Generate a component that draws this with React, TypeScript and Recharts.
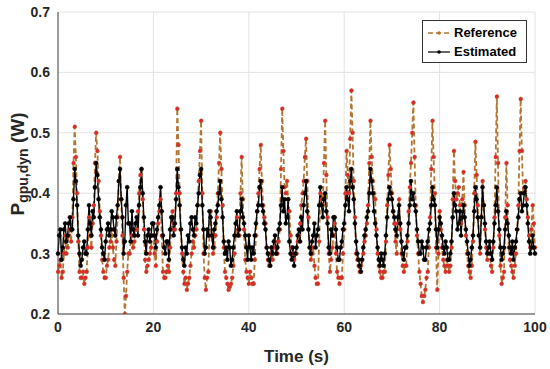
import React from "react";
import {
  LineChart,
  Line,
  XAxis,
  YAxis,
  CartesianGrid,
} from "recharts";

// sample grid, 0.25 s steps from 0 to 100 s
const time = Array.from({ length: 401 }, (_, i) => i * 0.25);

const estimated = [
  0.30, 0.33, 0.34, 0.29, 0.31, 0.34, 0.35, 0.32, 0.33, 0.35, 0.36, 0.34, 0.34, 0.39, 0.44, 0.42, 0.38, 0.33, 0.30, 0.28,
  0.29, 0.31, 0.32, 0.30, 0.30, 0.34, 0.38, 0.35, 0.33, 0.37, 0.36, 0.41, 0.45, 0.43, 0.39, 0.36, 0.34, 0.31, 0.30, 0.29,
  0.32, 0.34, 0.35, 0.33, 0.34, 0.37, 0.36, 0.34, 0.33, 0.36, 0.38, 0.42, 0.44, 0.39, 0.36, 0.30, 0.32, 0.38, 0.41, 0.35,
  0.35, 0.32, 0.37, 0.34, 0.33, 0.35, 0.36, 0.33, 0.38, 0.41, 0.44, 0.40, 0.36, 0.32, 0.30, 0.33, 0.34, 0.32, 0.33, 0.35,
  0.35, 0.33, 0.31, 0.34, 0.36, 0.38, 0.41, 0.37, 0.33, 0.31, 0.30, 0.32, 0.32, 0.29, 0.34, 0.36, 0.36, 0.33, 0.35, 0.39,
  0.44, 0.41, 0.38, 0.34, 0.31, 0.29, 0.28, 0.31, 0.30, 0.33, 0.32, 0.35, 0.36, 0.34, 0.33, 0.36, 0.35, 0.38, 0.40, 0.43,
  0.44, 0.38, 0.34, 0.30, 0.31, 0.34, 0.33, 0.37, 0.36, 0.33, 0.31, 0.34, 0.35, 0.37, 0.38, 0.40, 0.42, 0.39, 0.36, 0.32,
  0.30, 0.31, 0.29, 0.32, 0.31, 0.28, 0.29, 0.31, 0.33, 0.35, 0.37, 0.33, 0.34, 0.37, 0.39, 0.36, 0.35, 0.33, 0.31, 0.29,
  0.33, 0.31, 0.29, 0.31, 0.30, 0.33, 0.35, 0.37, 0.38, 0.41, 0.42, 0.38, 0.37, 0.35, 0.34, 0.31, 0.30, 0.29, 0.28, 0.31,
  0.30, 0.32, 0.33, 0.30, 0.31, 0.34, 0.35, 0.38, 0.41, 0.37, 0.39, 0.35, 0.36, 0.39, 0.32, 0.30, 0.29, 0.31, 0.28, 0.30,
  0.31, 0.33, 0.34, 0.32, 0.36, 0.34, 0.38, 0.40, 0.42, 0.37, 0.34, 0.31, 0.30, 0.32, 0.33, 0.35, 0.31, 0.33, 0.34, 0.38,
  0.41, 0.38, 0.36, 0.39, 0.40, 0.37, 0.35, 0.31, 0.30, 0.34, 0.33, 0.36, 0.36, 0.34, 0.31, 0.29, 0.29, 0.31, 0.32, 0.34,
  0.35, 0.38, 0.41, 0.39, 0.37, 0.42, 0.44, 0.41, 0.39, 0.35, 0.32, 0.30, 0.29, 0.28, 0.27, 0.29, 0.31, 0.33, 0.34, 0.36,
  0.37, 0.40, 0.44, 0.42, 0.40, 0.37, 0.35, 0.33, 0.31, 0.29, 0.28, 0.30, 0.29, 0.28, 0.30, 0.33, 0.36, 0.39, 0.41, 0.40,
  0.39, 0.37, 0.36, 0.34, 0.33, 0.36, 0.38, 0.35, 0.32, 0.30, 0.29, 0.31, 0.31, 0.33, 0.35, 0.38, 0.42, 0.39, 0.40, 0.38,
  0.37, 0.34, 0.32, 0.30, 0.30, 0.32, 0.31, 0.29, 0.29, 0.31, 0.32, 0.34, 0.35, 0.38, 0.41, 0.39, 0.38, 0.34, 0.31, 0.34,
  0.36, 0.35, 0.33, 0.31, 0.30, 0.32, 0.31, 0.29, 0.29, 0.30, 0.32, 0.36, 0.40, 0.38, 0.37, 0.34, 0.35, 0.37, 0.33, 0.36,
  0.38, 0.36, 0.34, 0.32, 0.30, 0.28, 0.29, 0.31, 0.33, 0.37, 0.41, 0.39, 0.36, 0.33, 0.31, 0.36, 0.41, 0.38, 0.35, 0.32,
  0.30, 0.31, 0.32, 0.30, 0.29, 0.32, 0.35, 0.38, 0.41, 0.37, 0.34, 0.31, 0.29, 0.30, 0.31, 0.34, 0.37, 0.35, 0.33, 0.31,
  0.30, 0.32, 0.29, 0.31, 0.32, 0.34, 0.36, 0.39, 0.40, 0.37, 0.38, 0.40, 0.41, 0.38, 0.35, 0.32, 0.30, 0.31, 0.33, 0.31,
  0.30,
];

const reference = [
  0.27, 0.28, 0.29, 0.26, 0.27, 0.30, 0.33, 0.30, 0.31, 0.33, 0.34, 0.32, 0.36, 0.45, 0.51, 0.46, 0.40, 0.32, 0.27, 0.26,
  0.26, 0.27, 0.25, 0.26, 0.27, 0.31, 0.36, 0.33, 0.31, 0.35, 0.38, 0.45, 0.50, 0.47, 0.42, 0.37, 0.33, 0.29, 0.27, 0.26,
  0.26, 0.28, 0.29, 0.31, 0.32, 0.34, 0.31, 0.29, 0.28, 0.32, 0.36, 0.42, 0.46, 0.39, 0.33, 0.26, 0.20, 0.23, 0.27, 0.30,
  0.30, 0.32, 0.33, 0.31, 0.32, 0.34, 0.34, 0.37, 0.40, 0.43, 0.44, 0.39, 0.34, 0.29, 0.27, 0.28, 0.29, 0.30, 0.31, 0.33,
  0.33, 0.30, 0.28, 0.32, 0.35, 0.37, 0.39, 0.33, 0.27, 0.26, 0.26, 0.27, 0.28, 0.27, 0.31, 0.34, 0.37, 0.35, 0.34, 0.40,
  0.54, 0.48, 0.40, 0.34, 0.30, 0.27, 0.25, 0.26, 0.24, 0.25, 0.26, 0.28, 0.30, 0.32, 0.31, 0.33, 0.34, 0.38, 0.42, 0.47,
  0.52, 0.40, 0.30, 0.26, 0.24, 0.26, 0.27, 0.33, 0.37, 0.33, 0.30, 0.31, 0.33, 0.36, 0.40, 0.45, 0.50, 0.44, 0.38, 0.31,
  0.27, 0.26, 0.25, 0.24, 0.245, 0.25, 0.26, 0.28, 0.30, 0.33, 0.36, 0.34, 0.33, 0.40, 0.46, 0.39, 0.34, 0.29, 0.27, 0.26,
  0.25, 0.27, 0.26, 0.25, 0.25, 0.29, 0.33, 0.37, 0.40, 0.44, 0.48, 0.42, 0.38, 0.36, 0.35, 0.31, 0.29, 0.28, 0.30, 0.31,
  0.29, 0.31, 0.32, 0.30, 0.30, 0.32, 0.34, 0.44, 0.54, 0.47, 0.41, 0.40, 0.42, 0.39, 0.37, 0.33, 0.31, 0.30, 0.29, 0.30,
  0.30, 0.32, 0.33, 0.35, 0.38, 0.40, 0.42, 0.46, 0.49, 0.42, 0.36, 0.31, 0.29, 0.30, 0.31, 0.28, 0.26, 0.25, 0.25, 0.32,
  0.40, 0.39, 0.38, 0.45, 0.52, 0.43, 0.36, 0.30, 0.27, 0.29, 0.31, 0.33, 0.35, 0.30, 0.27, 0.26, 0.25, 0.26, 0.26, 0.30,
  0.34, 0.40, 0.47, 0.43, 0.40, 0.49, 0.57, 0.50, 0.42, 0.36, 0.30, 0.29, 0.28, 0.27, 0.28, 0.29, 0.30, 0.32, 0.33, 0.35,
  0.38, 0.45, 0.52, 0.46, 0.42, 0.40, 0.39, 0.34, 0.30, 0.28, 0.27, 0.26, 0.26, 0.27, 0.27, 0.32, 0.38, 0.43, 0.48, 0.44,
  0.40, 0.37, 0.35, 0.32, 0.30, 0.35, 0.39, 0.34, 0.30, 0.28, 0.27, 0.28, 0.28, 0.32, 0.37, 0.41, 0.45, 0.50, 0.55, 0.46,
  0.38, 0.33, 0.30, 0.27, 0.25, 0.23, 0.22, 0.23, 0.24, 0.26, 0.27, 0.31, 0.36, 0.44, 0.52, 0.46, 0.40, 0.31, 0.24, 0.30,
  0.37, 0.34, 0.31, 0.29, 0.28, 0.27, 0.29, 0.28, 0.27, 0.28, 0.31, 0.39, 0.47, 0.42, 0.39, 0.40, 0.41, 0.38, 0.35, 0.39,
  0.435, 0.38, 0.33, 0.30, 0.28, 0.27, 0.26, 0.28, 0.32, 0.40, 0.485, 0.43, 0.38, 0.33, 0.30, 0.36, 0.42, 0.38, 0.34, 0.31,
  0.29, 0.30, 0.30, 0.28, 0.27, 0.31, 0.36, 0.46, 0.56, 0.45, 0.33, 0.28, 0.25, 0.26, 0.27, 0.36, 0.45, 0.38, 0.31, 0.29,
  0.28, 0.27, 0.26, 0.28, 0.30, 0.34, 0.38, 0.47, 0.556, 0.47, 0.40, 0.41, 0.42, 0.39, 0.36, 0.33, 0.31, 0.34, 0.38, 0.35,
  0.31,
];

const xTicks = [0, 20, 40, 60, 80, 100];
const yTicks = [0.2, 0.3, 0.4, 0.5, 0.6, 0.7];

const data = time.map((t, i) => ({
  t,
  reference: reference[i],
  estimated: estimated[i],
}));

const FONT = "'Liberation Sans', Arial, Helvetica, sans-serif";
const REF_LINE = "#B47432";
const REF_DOT = "#E0262A";

function LegendBox() {
  return (
    <div
      style={{
        position: "absolute",
        left: 422,
        top: 20,
        width: 105,
        height: 43,
        border: "1px solid #333",
        background: "#fff",
        fontFamily: FONT,
        fontWeight: "bold",
        fontSize: 13,
        color: "#000",
        boxSizing: "border-box",
        padding: "2px 0 0 4px",
        lineHeight: "19px",
      }}
    >
      <div style={{ display: "flex", alignItems: "center" }}>
        <svg width={24} height={10}>
          <line x1={1} y1={5} x2={23} y2={5} stroke={REF_LINE} strokeWidth={1.5} strokeDasharray="5 3" />
          <circle cx={12} cy={5} r={1.8} fill={REF_LINE} />
        </svg>
        <span style={{ marginLeft: 3 }}>Reference</span>
      </div>
      <div style={{ display: "flex", alignItems: "center" }}>
        <svg width={24} height={10}>
          <line x1={1} y1={5} x2={23} y2={5} stroke="#000" strokeWidth={1.2} />
          <circle cx={12} cy={5} r={1.8} fill="#000" />
        </svg>
        <span style={{ marginLeft: 3 }}>Estimated</span>
      </div>
    </div>
  );
}

function YLabel() {
  return (
    <text
      transform="translate(24, 164) rotate(-90)"
      textAnchor="middle"
      fontFamily={FONT}
      fontWeight="bold"
      fontSize={19}
      fill="#262626"
    >
      P
      <tspan fontSize={14} dy={4}>gpu,dyn</tspan>
      <tspan dy={-4}> (W)</tspan>
    </text>
  );
}

export default function App() {
  return (
    <div style={{ position: "absolute", left: 0, top: 0, width: 550, height: 369, background: "#fff" }}>
      <LineChart
        width={550}
        height={369}
        data={data}
        margin={{ top: 12, right: 15, bottom: 0, left: 0 }}
      >
        <CartesianGrid stroke="#e3e3e3" strokeWidth={1} />
        <XAxis
          dataKey="t"
          type="number"
          domain={[0, 100]}
          ticks={xTicks}
          tickLine={false}
          axisLine={{ stroke: "#444" }}
          tick={{ fontFamily: FONT, fontWeight: "bold", fontSize: 14, fill: "#262626" }}
          height={55}
          label={{
            value: "Time (s)",
            position: "insideBottom",
            offset: 7,
            style: { fontFamily: FONT, fontWeight: "bold", fontSize: 17, fill: "#262626" },
          }}
        />
        <XAxis
          xAxisId="top"
          orientation="top"
          dataKey="t"
          type="number"
          domain={[0, 100]}
          ticks={xTicks}
          tick={false}
          tickLine={false}
          axisLine={{ stroke: "#444" }}
          height={0}
        />
        <YAxis
          type="number"
          domain={[0.2, 0.7]}
          ticks={yTicks}
          tickLine={false}
          axisLine={{ stroke: "#444" }}
          tick={{ fontFamily: FONT, fontWeight: "bold", fontSize: 14, fill: "#262626" }}
          tickFormatter={(v: number) => v.toFixed(1)}
          width={58}
          allowDataOverflow
        />
        <YAxis
          yAxisId="right"
          orientation="right"
          type="number"
          domain={[0.2, 0.7]}
          ticks={yTicks}
          tick={false}
          tickLine={false}
          axisLine={{ stroke: "#444" }}
          width={0}
        />
        <Line
          dataKey="reference"
          name="Reference"
          stroke={REF_LINE}
          strokeWidth={1.8}
          strokeDasharray="5 3"
          dot={{ r: 2, fill: REF_DOT, stroke: "#A8642C", strokeWidth: 0.6 }}
          activeDot={false}
          isAnimationActive={false}
        />
        <Line
          dataKey="estimated"
          name="Estimated"
          stroke="#000"
          strokeWidth={1.4}
          dot={{ r: 2, fill: "#000", stroke: "#000", strokeWidth: 0.5 }}
          activeDot={false}
          isAnimationActive={false}
        />
        <YLabel />
      </LineChart>
      <LegendBox />
    </div>
  );
}
